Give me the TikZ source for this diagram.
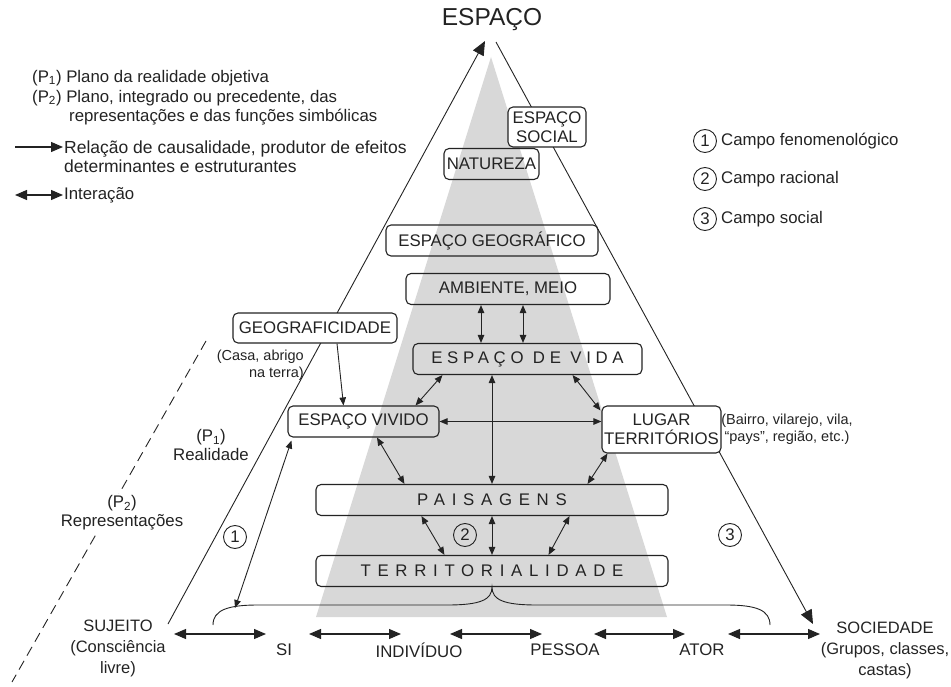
\documentclass[tikz,border=0pt]{standalone}
\usepackage{fontspec}
\setmainfont{Liberation Sans}
\newfontfamily\spaced[LetterSpace=40]{Liberation Sans}
\newfontfamily\spacedb[LetterSpace=28]{Liberation Sans}
\usetikzlibrary{arrows.meta,calc}
\definecolor{ink}{RGB}{35,35,35}
\definecolor{conegray}{RGB}{216,216,216}

\tikzset{
  cbox/.style={draw=ink,line width=1.1pt,rounded corners=5pt,minimum height=31pt,inner sep=2pt,align=center},
  txt/.style={text=ink,align=center,inner sep=0pt},
  note/.style={txt,font=\fontsize{14.5}{17}\selectfont},
  dbl/.style={{Triangle[length=8pt,width=6.5pt]}-{Triangle[length=8pt,width=6.5pt]},line width=0.9pt,draw=ink},
  one/.style={-{Triangle[length=8pt,width=6.5pt]},line width=0.9pt,draw=ink},
  big/.style={{Triangle[length=12pt,width=10pt]}-{Triangle[length=12pt,width=10pt]},line width=1.1pt,draw=ink},
  bigone/.style={-{Triangle[length=12pt,width=10pt]},line width=1.1pt,draw=ink},
  side/.style={-{Triangle[length=14pt,width=12pt]},line width=0.9pt,draw=ink},
  num/.style={circle,draw=ink,line width=0.9pt,minimum size=23pt,inner sep=0pt,text=ink},
}

\begin{document}
\begin{tikzpicture}[x=1pt,y=-1pt,font=\fontsize{16.8}{19}\selectfont,text=ink]
\useasboundingbox (0,0) rectangle (951,687);
% grey cone
\fill[conegray] (491,57) -- (667,617) -- (316,617) -- cycle;

\node[font=\fontsize{24.5}{28}\selectfont] (espaco) at (492,20) {ESPAÇO};

% sides of the triangle
\coordinate (apexL) at (485,41);
\coordinate (apexR) at (496,42);
\coordinate (baseL) at (168,624);
\coordinate (baseR) at (813,624);
\draw[side] (baseL) -- (apexL);
\draw[side] (apexR) -- (baseR);

% plane P2
\coordinate (dashT) at (206,341);
\coordinate (dashB) at (12,682);
\draw[ink,line width=0.9pt,dash pattern=on 10pt off 6pt] (dashT) -- (dashB);
\node[txt,fill=white,inner sep=2pt] (repr) at (122,513) {(P\textsubscript{2})\\Representações};
\node[txt] (real) at (211,445) {(P\textsubscript{1})\\Realidade};

% boxes
\node[cbox,fill=white,minimum width=78pt,minimum height=40pt] (social) at (547,127) {ESPAÇO\\SOCIAL};
\node[cbox,minimum width=95pt] (natureza) at (491.5,164) {NATUREZA};
\node[cbox,minimum width=212pt] (geo) at (492,240.5) {ESPAÇO GEOGRÁFICO};
\node[cbox,minimum width=204pt] (ambiente) at (508,289) {AMBIENTE, MEIO};
\node[cbox,minimum width=229pt] (vida) at (527.5,359) {\spacedb ESPAÇO DE VIDA};
\node[cbox,fill=white,minimum width=164pt,minimum height=30pt] (geograf) at (315,328) {GEOGRAFICIDADE};
\node[cbox,minimum width=151pt] (vivido) at (363.5,421.5) {ESPAÇO VIVIDO};
\node[cbox,fill=white,minimum width=119pt,minimum height=47pt] (lugar) at (661.5,429.5) {LUGAR\\TERRITÓRIOS};
\node[cbox,minimum width=352pt] (paisagens) at (492,500) {\spaced PAISAGENS};
\node[cbox,minimum width=352pt] (territ) at (492,571) {\spaced TERRITORIALIDADE};

\node[note,align=right,anchor=east] (casa) at (304,365) {(Casa, abrigo\\na terra)};
\node[note] (bairro) at (787,429) {(Bairro, vilarejo, vila,\\“pays”, região, etc.)};

% links between the boxes
\draw[dbl] (ambiente.south -| 481,0) -- (vida.north -| 481,0);
\draw[dbl] (ambiente.south -| 523,0) -- (vida.north -| 523,0);
\draw[one] ($(geograf.south)+(22,0)$) -- ($(vivido.north)+(-20,0)$);
\draw[dbl] ($(vida.south west)+(30,0)$) -- ($(vivido.north east)+(-24,0)$);
\draw[dbl] ($(vida.south east)+(-70,0)$) -- ($(lugar.north west)+(-1,5)$);
\draw[dbl] (vida.south -| paisagens.north) -- (paisagens.north);
\draw[dbl] (vivido.east) -- (vivido.east -| lugar.west);
\draw[dbl] ($(vivido.south)+(13.5,0)$) -- ($(paisagens.north west)+(89,0)$);
\draw[dbl] ($(lugar.south west)+(6,0)$) -- ($(paisagens.north east)+(-81,0)$);
\draw[dbl] ($(paisagens.south west)+(106,0)$) -- ($(territ.north west)+(129,0)$);
\draw[dbl] (paisagens.south) -- (territ.north);
\draw[dbl] ($(paisagens.south east)+(-99,0)$) -- ($(territ.north east)+(-120,0)$);

% brace under territorialidade
\coordinate (braceL) at (213,625);
\coordinate (braceR) at (770,625);
\coordinate (braceA) at (235,608);
\draw[ink,line width=0.9pt] (braceL) .. controls (213,610) and (228,605) .. (258,605) -- (447,605)
  .. controls (480,605) and (492,600) .. (territ.south)
  .. controls (492,600) and (504,605) .. (537,605) -- (726,605)
  .. controls (756,605) and (770,610) .. (braceR);
\draw[dbl] (braceA) -- ($(vivido.south west)+(4,3)$);

\node[num] (n1) at (235,537) {1};
\node[num] (n2) at (465,535) {2};
\node[num] (n3) at (730,535) {3};

% bottom row
\node[txt,font=\fontsize{16.5}{21}\selectfont] (sujeito) at (118,648) {SUJEITO\\(Consciência\\livre)};
\node[txt] (si) at (284,650) {SI};
\node[txt] (indiv) at (419,650) {INDIVÍDUO};
\node[txt] (pessoa) at (565,650) {PESSOA};
\node[txt] (ator) at (702,650) {ATOR};
\node[txt,font=\fontsize{16.5}{21}\selectfont] (sociedade) at (885,650) {SOCIEDADE\\(Grupos, classes,\\castas)};
\foreach \n/\a/\b in {1/174/266,2/309/401,3/450/542,4/594/685,5/728/820} {
  \coordinate (l\n) at (\a,634);
  \coordinate (r\n) at (\b,634);
  \draw[big] (l\n) -- (r\n);
}

% legend
\node[txt,anchor=west] (p1) at (32,78) {(P\textsubscript{1}) Plano da realidade objetiva};
\node[txt,anchor=west] (p2) at (32,98) {(P\textsubscript{2}) Plano, integrado ou precedente, das};
\node[txt,anchor=west] (p2b) at (69,117) {representações e das funções simbólicas};
\coordinate (lgA) at (15,147);
\coordinate (lgB) at (63,147);
\draw[bigone] (lgA) -- (lgB);
\node[txt,anchor=west,align=left,font=\fontsize{17.5}{19}\selectfont] (causal) at (64,156.5) {Relação de causalidade, produtor de efeitos\\determinantes e estruturantes};
\coordinate (lgC) at (15,195);
\coordinate (lgD) at (63,195);
\draw[big] (lgC) -- (lgD);
\node[txt,anchor=west] (inter) at (64,195) {Interação};

\foreach \i/\y/\t in {1/141/Campo fenomenológico,2/179/Campo racional,3/219/Campo social} {
  \node[num] (c\i) at (705,\y) {\i};
  \node[txt,anchor=west] (ct\i) at ([xshift=4pt]c\i.east) {\t};
}
\end{tikzpicture}
\end{document}
